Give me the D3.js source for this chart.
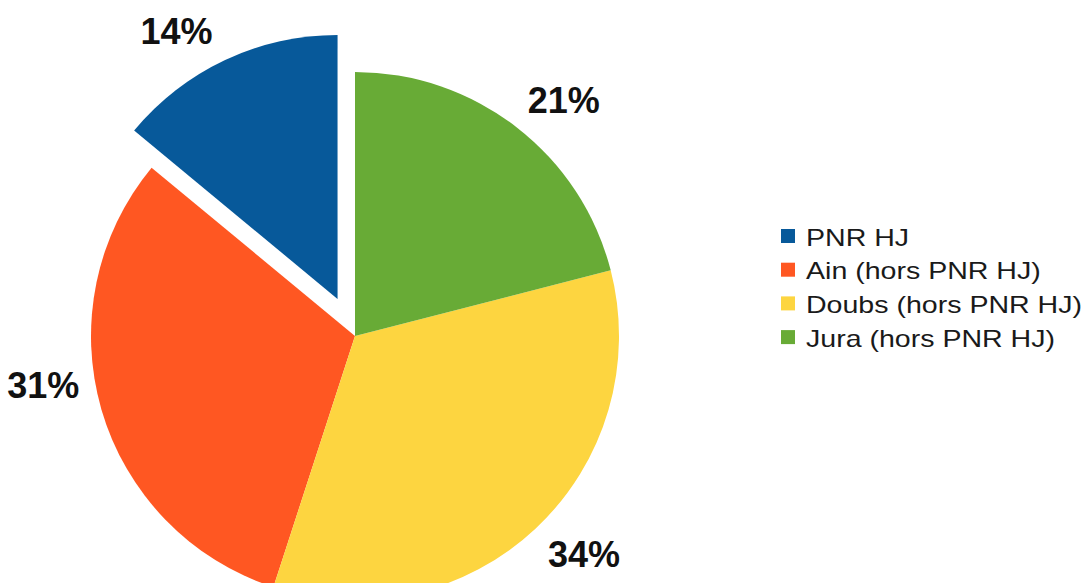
<!DOCTYPE html>
<html>
<head>
<meta charset="utf-8">
<script src="https://cdn.jsdelivr.net/npm/d3@7"></script>
<style>
  html, body { margin: 0; padding: 0; background: #fff; }
  svg { display: block; font-family: "Liberation Sans", Arial, sans-serif; }
</style>
</head>
<body>
<div id="chart"></div>
<script>
// data
const categories = ["PNR HJ", "Ain (hors PNR HJ)", "Doubs (hors PNR HJ)", "Jura (hors PNR HJ)"];
const shares = [14, 31, 34, 21];
const labels = ["14%", "31%", "34%", "21%"];
const colors = ["#07599a", "#ff5722", "#fdd540", "#68ab36"];

const width = 1089;
const height = 583;

const cx = 355, cy = 336;
const radius = 264;
const explode = [41, 0, 0, 0];     // pull-out of each slice
const labelGap = 18;
const labelShift = [0, -42, 0, 0]; // vertical nudge of the outside labels

const svg = d3.select("#chart")
    .append("svg")
    .attr("width", width)
    .attr("height", height);

// counter-clockwise from 12 o'clock
const pie = d3.pie()
    .sort(null)
    .value(d => d)
    .startAngle(0)
    .endAngle(-2 * Math.PI);

const arc = d3.arc().innerRadius(0).outerRadius(radius);

const arcs = pie(shares);

const slices = svg.append("g")
    .attr("transform", `translate(${cx},${cy})`);

function offsetOf(d, i) {
    const mid = (d.startAngle + d.endAngle) / 2;
    return [explode[i] * Math.sin(mid), -explode[i] * Math.cos(mid)];
}

slices.selectAll("path")
    .data(arcs)
    .enter()
    .append("path")
    .attr("d", arc)
    .attr("fill", (d, i) => colors[i])
    .attr("transform", (d, i) => {
        const [dx, dy] = offsetOf(d, i);
        return `translate(${dx},${dy})`;
    });

// percentage labels, outside end
const fontSize = 36;
const capHeight = fontSize * 0.716;

slices.selectAll("text")
    .data(arcs)
    .enter()
    .append("text")
    .attr("font-size", fontSize)
    .attr("font-weight", "bold")
    .attr("fill", "#111")
    .each(function (d, i) {
        const mid = (d.startAngle + d.endAngle) / 2;
        const [dx, dy] = offsetOf(d, i);
        const r = radius + labelGap;
        const x = dx + r * Math.sin(mid);
        const y = dy - r * Math.cos(mid);
        const top = Math.cos(mid) > 0;
        d3.select(this)
            .attr("text-anchor", Math.sin(mid) >= 0 ? "start" : "end")
            .attr("x", x - (Math.sin(mid) < 0 ? 5 : 0))
            .attr("y", (top ? y : y + capHeight) + labelShift[i]);
    })
    .text((d, i) => labels[i]);

// legend
const legend = svg.append("g")
    .attr("transform", "translate(781,229)");

const rows = legend.selectAll("g")
    .data(categories)
    .enter()
    .append("g")
    .attr("transform", (d, i) => `translate(0,${i * 33.7})`);

rows.append("rect")
    .attr("width", 14)
    .attr("height", 14)
    .attr("fill", (d, i) => colors[i]);

// the legend font is drawn a little wide
rows.append("text")
    .attr("transform", "translate(25,16.5) scale(1.19,1)")
    .attr("font-size", 24)
    .attr("fill", "#1a1a1a")
    .text(d => d);
</script>
</body>
</html>
